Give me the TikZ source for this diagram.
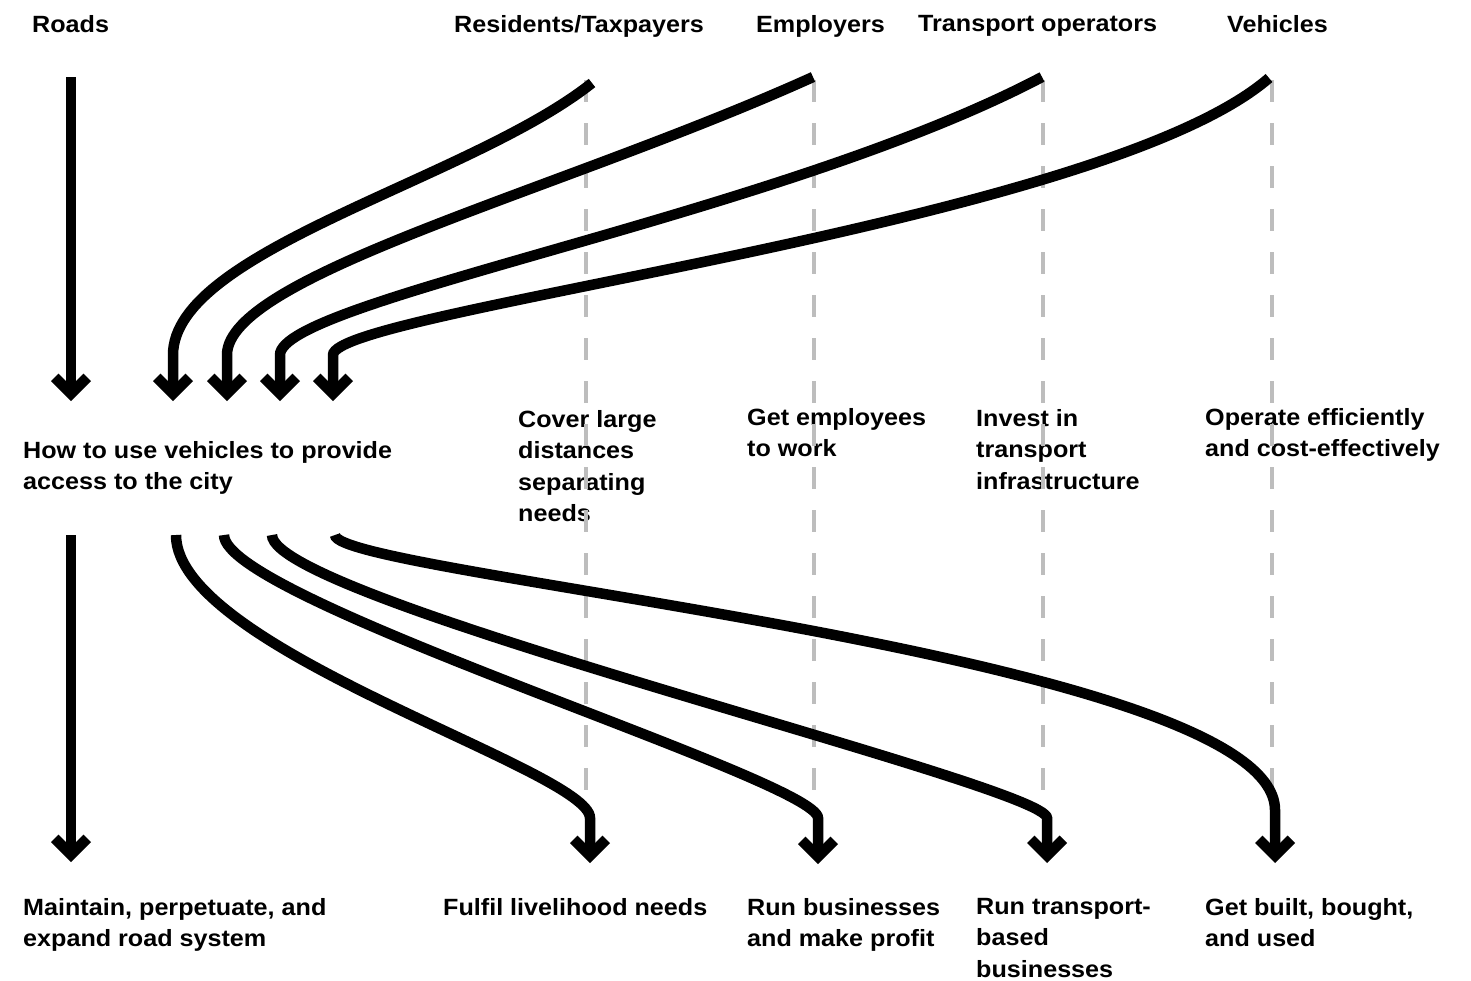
\documentclass[tikz,border=0pt]{standalone}
\usepackage{fontspec}
\newfontfamily\labfont{Liberation Sans}[FakeStretch=1.07]
\usetikzlibrary{arrows.meta}

% thick chevron arrow head (two square-cut arms meeting in a sharp point)
\pgfdeclarearrow{
  name = Chevron,
  setup code = {
    \pgfarrowssettipend{0pt}
    \pgfarrowssetlineend{-12pt}
    \pgfarrowssetbackend{-27.4pt}
    \pgfarrowssetvisualbackend{-14.8pt}
    \pgfarrowshullpoint{0pt}{0pt}
    \pgfarrowshullpoint{-27.4pt}{20pt}
    \pgfarrowshullpoint{-27.4pt}{-20pt}
  },
  drawing code = {
    \pgfpathmoveto{\pgfqpoint{0pt}{0pt}}
    \pgfpathlineto{\pgfqpoint{-20pt}{20pt}}
    \pgfpathlineto{\pgfqpoint{-27.4pt}{12.6pt}}
    \pgfpathlineto{\pgfqpoint{-14.8pt}{0pt}}
    \pgfpathlineto{\pgfqpoint{-27.4pt}{-12.6pt}}
    \pgfpathlineto{\pgfqpoint{-20pt}{-20pt}}
    \pgfpathclose
    \pgfusepathqfill
  }
}

\definecolor{guidegray}{HTML}{BDBDBD}

\tikzset{
  flow/.style={line width=10.5pt, line cap=butt, draw=black, -{Chevron[fill=black]}},
  guide/.style={line width=3.5pt, draw=guidegray, dash pattern=on 22pt off 21pt},
  lab/.style={font=\labfont\bfseries\fontsize{23.5}{31.5}\selectfont,
              anchor=north west, inner sep=0pt, align=left},
}

\begin{document}
\begin{tikzpicture}[x=1pt, y=-1pt]
  \useasboundingbox[fill=white] (0,0) rectangle (1471,980);

  % column headings
  \node[lab] (roads) at (32,15)   {Roads};
  \node[lab] (res)   at (454,15)  {Residents/Taxpayers};
  \node[lab] (emp)   at (756,15)  {Employers};
  \node[lab] (ops)   at (918,15)  {Transport operators};
  \node[lab] (veh)   at (1227,15) {Vehicles};

  % middle row
  \node[lab] (hub)     at (23,441)   {How to use vehicles to provide\\access to the city};
  \node[lab] (cover)   at (518,410)  {Cover large\\distances\\separating\\needs};
  \node[lab] (getemp)  at (747,408)  {Get employees\\to work};
  \node[lab] (invest)  at (976,409)  {Invest in\\transport\\infrastructure};
  \node[lab] (operate) at (1205,408) {Operate efficiently\\and cost-effectively};

  % bottom row
  \node[lab] (maintain) at (23,898)   {Maintain, perpetuate, and\\expand road system};
  \node[lab] (fulfil)   at (443,898)  {Fulfil livelihood needs};
  \node[lab] (runbiz)   at (747,898)  {Run businesses\\and make profit};
  \node[lab] (runtrans) at (976,898)  {Run transport-\\based\\businesses};
  \node[lab] (getbuilt) at (1205,898) {Get built, bought,\\and used};

  % guide columns
  \foreach \n/\gx in {g1/586, g2/814, g3/1043, g4/1272} {
    \coordinate (\n-top) at (\gx,80);
    \coordinate (\n-bot) at (\gx,790);
    \draw[guide] (\n-top) -- (\n-bot);
  }

  % arrow end points
  \coordinate (roads-start) at (71,77);
  \coordinate (roads-tip)   at (71,401);
  \coordinate (res-start)   at (592,83);
  \coordinate (emp-start)   at (813,77);
  \coordinate (ops-start)   at (1042,77);
  \coordinate (veh-start)   at (1269,78);
  \foreach \n/\ix in {in1/173, in2/227, in3/280, in4/333} {
    \coordinate (\n-knee) at (\ix,355);
    \coordinate (\n)      at (\ix,401);
  }
  \coordinate (out0) at (71,535);
  \coordinate (out1) at (176,535);
  \coordinate (out2) at (224,535);
  \coordinate (out3) at (272,535);
  \coordinate (out4) at (335,535);
  \coordinate (maintain-tip) at (71,862);
  \coordinate (fulfil-knee)   at (590,818);
  \coordinate (fulfil-tip)    at (590,863);
  \coordinate (runbiz-knee)   at (818,818);
  \coordinate (runbiz-tip)    at (818,864);
  \coordinate (runtrans-knee) at (1047,818);
  \coordinate (runtrans-tip)  at (1047,863);
  \coordinate (getbuilt-knee) at (1275,810);
  \coordinate (getbuilt-tip)  at (1275,863);

  % inputs into the central question
  \draw[flow] (roads-start) -- (roads-tip);
  \draw[flow] (res-start) .. controls (470,180) and (173,250) .. (in1-knee) -- (in1);
  \draw[flow] (emp-start) .. controls (563,190) and (227,275) .. (in2-knee) -- (in2);
  \draw[flow] (ops-start) .. controls (780,215) and (280,300) .. (in3-knee) -- (in3);
  \draw[flow] (veh-start) .. controls (1100,225) and (333,310) .. (in4-knee) -- (in4);

  % outputs towards the purposes
  \draw[flow] (out0) -- (maintain-tip);
  \draw[flow] (out1) .. controls (176,650) and (590,770) .. (fulfil-knee) -- (fulfil-tip);
  \draw[flow] (out2) .. controls (224,600) and (818,780) .. (runbiz-knee) -- (runbiz-tip);
  \draw[flow] (out3) .. controls (272,600) and (1047,785) .. (runtrans-knee) -- (runtrans-tip);
  \draw[flow] (out4) .. controls (335,575) and (1275,655) .. (getbuilt-knee) -- (getbuilt-tip);
\end{tikzpicture}
\end{document}
